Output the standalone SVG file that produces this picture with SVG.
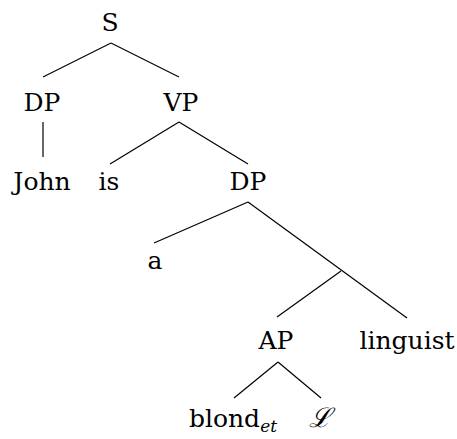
<svg xmlns="http://www.w3.org/2000/svg" width="457" height="439" viewBox="0 0 457 439" font-family="DejaVu Serif, serif">
<style>
text{font-size:25px;fill:#000;text-anchor:middle}
.sub{font-size:17px;font-style:italic}
.cal{font-style:italic;font-size:27px}
line{stroke:#000;stroke-width:1.2}
</style>
<rect width="457" height="439" fill="#fff"/>
<g id="connectors">
<line x1="111" y1="43" x2="43" y2="77"/>
<line x1="111" y1="43" x2="179" y2="77"/>
<line x1="43" y1="122" x2="43" y2="157"/>
<line x1="179" y1="122" x2="110" y2="164"/>
<line x1="179" y1="122" x2="248" y2="164"/>
<line x1="248" y1="202" x2="154" y2="243"/>
<line x1="248" y1="202" x2="407" y2="318"/>
<line x1="341" y1="271" x2="277" y2="317"/>
<line x1="278" y1="362" x2="234" y2="398"/>
<line x1="278" y1="362" x2="321" y2="398"/>
</g>
<g id="n-S"><text x="110" y="31">S</text></g>
<g id="n-DP1"><text x="42" y="111">DP</text></g>
<g id="n-VP"><text x="181" y="111">VP</text></g>
<g id="n-John"><text x="42" y="190">John</text></g>
<g id="n-is"><text x="109" y="190">is</text></g>
<g id="n-DP2"><text x="248" y="190">DP</text></g>
<g id="n-a"><text x="155" y="269">a</text></g>
<g id="n-AP"><text x="276" y="349">AP</text></g>
<g id="n-linguist"><text x="407" y="349">linguist</text></g>
<g id="n-blond"><text x="233" y="427">blond<tspan class="sub" dy="5">et</tspan></text></g>
<g id="n-L"><text class="cal" x="320" y="427">ℒ</text></g>
</svg>
